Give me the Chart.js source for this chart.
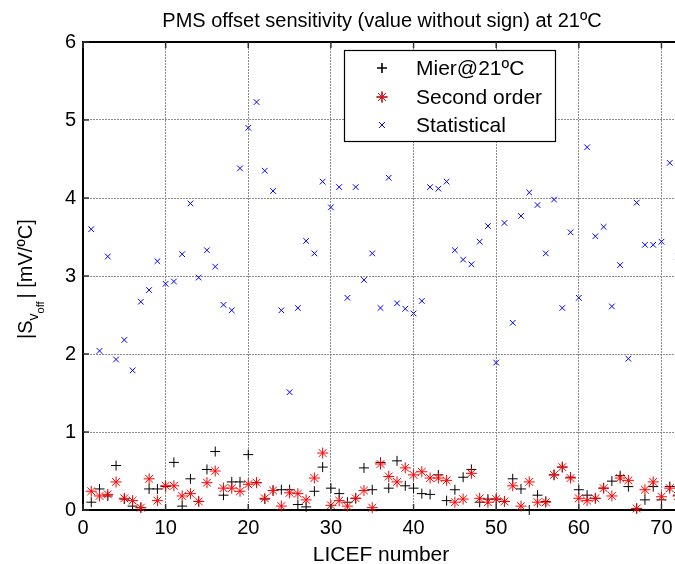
<!DOCTYPE html>
<html>
<head>
<meta charset="utf-8">
<script src="https://cdn.jsdelivr.net/npm/chart.js@4.4.1/dist/chart.umd.min.js"></script>
<style>
  html, body { margin: 0; padding: 0; background: #fff; overflow: hidden; }
  canvas { display: block; }
</style>
</head>
<body>
<canvas id="chart" width="690" height="564"></canvas>
<script>
// LICEF receiver numbers
var licef = [1, 2, 3, 4, 5, 6, 7, 8, 9, 10, 11, 12, 13, 14, 15, 16, 17, 18, 19, 20,
    21, 22, 23, 24, 25, 26, 27, 28, 29, 30, 31, 32, 33, 34, 35, 36, 37, 38, 39, 40,
    41, 42, 43, 44, 45, 46, 47, 48, 49, 50, 51, 52, 53, 54, 55, 56, 57, 58, 59, 60,
    61, 62, 63, 64, 65, 66, 67, 68, 69, 70, 71, 72];

// |S_voff| in mV/ºC
var mier = [0.10, 0.27, 0.18, 0.57, 0.14, 0.05, 0.03, 0.27, 0.27, 0.30,
    0.61, 0.05, 0.40, 0.11, 0.52, 0.75, 0.19, 0.36, 0.36, 0.71,
    0.35, 0.14, 0.25, 0.26, 0.26, 0.07, 0.04, 0.24, 0.55, 0.28,
    0.21, 0.10, 0.15, 0.54, 0.26, 0.61, 0.28, 0.63, 0.31, 0.28,
    0.21, 0.20, 0.45, 0.12, 0.26, 0.42, 0.52, 0.10, 0.14, 0.14,
    0.11, 0.40, 0.27, 0.00, 0.19, 0.11, 0.45, 0.55, 0.42, 0.26,
    0.19, 0.15, 0.28, 0.37, 0.44, 0.30, 0.02, 0.13, 0.30, 0.13,
    0.30, 0.19];
var secondOrder = [0.24, 0.18, 0.20, 0.36, 0.15, 0.12, 0.03, 0.40, 0.12, 0.31,
    0.31, 0.18, 0.21, 0.11, 0.35, 0.50, 0.28, 0.28, 0.24, 0.33,
    0.35, 0.15, 0.25, 0.05, 0.22, 0.21, 0.13, 0.41, 0.73, 0.06,
    0.12, 0.05, 0.15, 0.25, 0.03, 0.59, 0.43, 0.36, 0.54, 0.45,
    0.49, 0.41, 0.41, 0.38, 0.10, 0.14, 0.47, 0.15, 0.10, 0.14,
    0.11, 0.31, 0.05, 0.36, 0.10, 0.10, 0.45, 0.55, 0.41, 0.15,
    0.12, 0.15, 0.28, 0.18, 0.41, 0.38, 0.02, 0.26, 0.36, 0.17,
    0.28, 0.18];
var statistical = [3.60, 2.04, 3.25, 1.93, 2.18, 1.79, 2.67, 2.82, 3.19, 2.90,
    2.93, 3.28, 3.93, 2.98, 3.33, 3.12, 2.63, 2.56, 4.38, 4.90,
    5.23, 4.35, 4.09, 2.56, 1.51, 2.59, 3.45, 3.29, 4.21, 3.88,
    4.14, 2.72, 4.14, 2.95, 3.29, 2.59, 4.26, 2.65, 2.58, 2.52,
    2.68, 4.14, 4.12, 4.21, 3.33, 3.21, 3.15, 3.44, 3.64, 1.89,
    3.68, 2.40, 3.77, 4.07, 3.91, 3.29, 3.98, 2.59, 3.56, 2.72,
    4.65, 3.51, 3.63, 2.61, 3.14, 1.94, 3.94, 3.40, 3.40, 3.44,
    4.45, 3.25];

var xTicks = [0, 10, 20, 30, 40, 50, 60, 70];
var yTicks = [0, 1, 2, 3, 4, 5, 6];

function pts(ys) {
    return ys.map(function (v, i) { return { x: licef[i], y: v }; });
}

var FONT = '"Liberation Sans", Arial, Helvetica, sans-serif';

// title, axis labels, box, inner ticks and legend drawn matlab style
var decorations = {
    id: 'decorations',
    afterDraw: function (chart) {
        var c = chart.ctx, a = chart.chartArea;
        var xs = chart.scales.x, ys = chart.scales.y;
        c.save();
        c.fillStyle = '#000';

        // title
        c.font = '20px ' + FONT;
        c.textAlign = 'center';
        c.textBaseline = 'alphabetic';
        c.fillText('PMS offset sensitivity (value without sign) at 21ºC', 382, 27);

        // x label
        c.font = '21px ' + FONT;
        c.fillText('LICEF number', 381, 561);

        // y label with nested subscripts
        c.save();
        c.translate(32, 339);
        c.rotate(-Math.PI / 2);
        c.textAlign = 'left';
        c.font = '20px ' + FONT;
        c.fillText('|S', 0, 0);
        var w = c.measureText('|S').width;
        c.font = '14px ' + FONT;
        c.fillText('v', w, 6);
        var wv = c.measureText('v').width;
        c.font = '11px ' + FONT;
        c.fillText('off', w + wv, 12);
        var wo = c.measureText('off').width;
        c.font = '20px ' + FONT;
        c.fillText('| [mV/ºC]', w + wv + wo + 3, 0);
        c.restore();

        // top edge of axes box
        c.strokeStyle = '#000';
        c.lineWidth = 2;
        c.beginPath();
        c.moveTo(a.left, a.top);
        c.lineTo(a.right + 20, a.top);
        c.stroke();

        // inward tick marks
        c.lineWidth = 1.5;
        c.strokeStyle = '#333';
        c.beginPath();
        xTicks.forEach(function (t) {
            var px = xs.getPixelForValue(t);
            c.moveTo(px, a.bottom); c.lineTo(px, a.bottom - 6);
            c.moveTo(px, a.top); c.lineTo(px, a.top + 6);
        });
        yTicks.forEach(function (t) {
            var py = ys.getPixelForValue(t);
            c.moveTo(a.left, py); c.lineTo(a.left + 6, py);
        });
        c.stroke();

        // legend box
        var lx = 344, ly = 50, lw = 211, lh = 91;
        c.fillStyle = '#fff';
        c.fillRect(lx, ly, lw, lh);
        c.strokeStyle = '#000';
        c.lineWidth = 1.2;
        c.strokeRect(lx + 0.5, ly + 0.5, lw, lh);
        var rows = [68, 97, 125];
        chart.data.datasets.forEach(function (ds, i) {
            Chart.helpers.drawPoint(c, {
                pointStyle: ds.pointStyle,
                radius: ds.pointRadius,
                borderWidth: ds.borderWidth,
                rotation: 0
            }, 382, rows[i]);
            c.strokeStyle = ds.borderColor;
            c.lineWidth = ds.borderWidth;
            c.stroke();
            c.fillStyle = '#000';
            c.font = '21px ' + FONT;
            c.textAlign = 'left';
            c.textBaseline = 'middle';
            c.fillText(ds.label, 416, rows[i] + 1);
        });
        c.restore();
    }
};

var ctx = document.getElementById('chart').getContext('2d');
var chart = new Chart(ctx, {
    type: 'scatter',
    data: {
        datasets: [{
            label: 'Mier@21ºC',
            data: pts(mier),
            pointStyle: 'cross',
            pointRadius: 5,
            borderColor: '#000',
            borderWidth: 1,
            order: 3,
            clip: false
        }, {
            label: 'Second order',
            data: pts(secondOrder),
            pointStyle: 'star',
            pointRadius: 5.5,
            borderColor: '#ff0000',
            borderWidth: 1,
            order: 2,
            clip: false
        }, {
            label: 'Statistical',
            data: pts(statistical),
            pointStyle: 'crossRot',
            pointRadius: 4,
            borderColor: '#0000ff',
            borderWidth: 1,
            order: 1,
            clip: false
        }]
    },
    plugins: [decorations],
    options: {
        responsive: false,
        animation: false,
        layout: { padding: { top: 42, right: 12, left: 0, bottom: 0 } },
        plugins: {
            legend: { display: false },
            title: { display: false },
            tooltip: { enabled: false }
        },
        scales: {
            x: {
                type: 'linear',
                min: 0,
                max: 72,
                afterBuildTicks: function (s) {
                    s.ticks = xTicks.map(function (v) { return { value: v }; });
                },
                afterFit: function (s) { s.height = 54; },
                ticks: {
                    color: '#000',
                    font: { family: FONT, size: 20 },
                    padding: 6,
                    maxRotation: 0
                },
                grid: {
                    color: '#8c8c8c',
                    lineWidth: 1,
                    drawTicks: false
                },
                border: { color: '#000', width: 2, dash: [2, 1] }
            },
            y: {
                type: 'linear',
                min: 0,
                max: 6,
                afterBuildTicks: function (s) {
                    s.ticks = yTicks.map(function (v) { return { value: v }; });
                },
                afterFit: function (s) { s.width = 83; },
                ticks: {
                    color: '#000',
                    font: { family: FONT, size: 20 },
                    padding: 7
                },
                grid: {
                    color: '#8c8c8c',
                    lineWidth: 1,
                    drawTicks: false
                },
                border: { color: '#000', width: 2, dash: [2, 1] }
            }
        }
    }
});
</script>
</body>
</html>
